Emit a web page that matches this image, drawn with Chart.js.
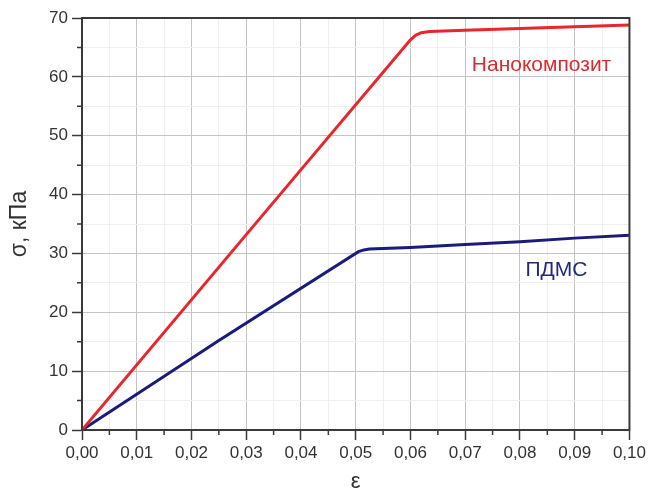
<!DOCTYPE html>
<html>
<head>
    <title>σ(ε)</title>
    <script src="https://cdn.jsdelivr.net/npm/chart.js"></script>
    <style>
        html, body {
            margin: 0;
            padding: 0;
            background: #ffffff;
        }
        .chart-box {
            width: 649px;
            height: 490px;
            position: relative;
        }
    </style>
</head>
<body>
    <div class="chart-box">
        <canvas id="stress-chart"></canvas>
    </div>

    <script>
        // strain values and stress (kPa)
        const epsNano = [0, 0.0300, 0.0600, 0.0610, 0.0620, 0.0635, 0.0700, 0.0800, 0.0900, 0.1000];
        const sigmaNano = [0, 33.2, 66.3, 67.1, 67.5, 67.7, 67.9, 68.2, 68.5, 68.8];
        const epsPdms = [0, 0.0250, 0.0505, 0.0515, 0.0525, 0.0600, 0.0700, 0.0800, 0.0900, 0.1000];
        const sigmaPdms = [0, 15.2, 30.3, 30.6, 30.75, 31.0, 31.5, 32.0, 32.6, 33.1];

        const xTicksMajor = ['0,00', '0,01', '0,02', '0,03', '0,04', '0,05', '0,06', '0,07', '0,08', '0,09', '0,10'];
        const yTicksMajor = ['0', '10', '20', '30', '40', '50', '60', '70'];

        const labels = [
            { text: 'Нанокомпозит', x: 0.0712, y: 62.0, color: '#d92a2f' },
            { text: 'ПДМС', x: 0.0810, y: 27.2, color: '#222a78' }
        ];

        function toPoints(xs, ys) {
            return xs.map((x, i) => ({ x: x, y: ys[i] }));
        }

        function isMajorX(v) {
            return Math.round(v * 1000) % 10 === 0;
        }
        function isMajorY(v) {
            return Math.round(v) % 10 === 0;
        }

        // frame on top/right, minor ticks and curve captions
        const extras = {
            id: 'extras',
            afterDraw(chart) {
                const ctx = chart.ctx;
                const a = chart.chartArea;
                const xs = chart.scales.x;
                const ys = chart.scales.y;
                ctx.save();

                ctx.strokeStyle = '#3a3a3a';
                ctx.lineWidth = 2;
                ctx.strokeRect(a.left, a.top, a.right - a.left, a.bottom - a.top);

                ctx.lineWidth = 1.5;
                ctx.beginPath();
                xs.ticks.forEach(t => {
                    if (!isMajorX(t.value)) {
                        const px = xs.getPixelForValue(t.value);
                        ctx.moveTo(px, a.bottom);
                        ctx.lineTo(px, a.bottom + 5);
                    }
                });
                ys.ticks.forEach(t => {
                    if (!isMajorY(t.value)) {
                        const py = ys.getPixelForValue(t.value);
                        ctx.moveTo(a.left, py);
                        ctx.lineTo(a.left - 5, py);
                    }
                });
                ctx.stroke();

                ctx.font = '21px "Liberation Sans", Arial, sans-serif';
                ctx.textAlign = 'left';
                ctx.textBaseline = 'middle';
                labels.forEach(l => {
                    ctx.fillStyle = l.color;
                    ctx.fillText(l.text, xs.getPixelForValue(l.x), ys.getPixelForValue(l.y));
                });
                ctx.restore();
            }
        };

        const tickFont = { family: '"Liberation Sans", Arial, sans-serif', size: 17 };

        const ctx = document.getElementById('stress-chart').getContext('2d');
        const stressChart = new Chart(ctx, {
            type: 'line',
            data: {
                datasets: [{
                    label: 'Нанокомпозит',
                    data: toPoints(epsNano, sigmaNano),
                    borderColor: '#e8262b',
                    borderWidth: 3,
                    pointRadius: 0,
                    tension: 0,
                    fill: false
                }, {
                    label: 'ПДМС',
                    data: toPoints(epsPdms, sigmaPdms),
                    borderColor: '#1b1b7c',
                    borderWidth: 3,
                    pointRadius: 0,
                    tension: 0,
                    fill: false
                }]
            },
            options: {
                responsive: true,
                maintainAspectRatio: false,
                animation: false,
                layout: {
                    padding: { left: 0, right: 18, top: 18, bottom: 0 }
                },
                plugins: {
                    legend: { display: false },
                    tooltip: { enabled: false }
                },
                scales: {
                    x: {
                        type: 'linear',
                        min: 0,
                        max: 0.1,
                        afterFit: s => { s.height = 60; },
                        border: { color: '#3a3a3a', width: 2 },
                        grid: {
                            color: c => isMajorX(c.tick.value) ? '#c4c4c4' : '#efefef',
                            tickColor: c => isMajorX(c.tick.value) ? '#3a3a3a' : 'rgba(0,0,0,0)',
                            tickLength: 10,
                            tickWidth: 1.5,
                            lineWidth: 1
                        },
                        ticks: {
                            stepSize: 0.005,
                            autoSkip: false,
                            maxRotation: 0,
                            padding: 3,
                            color: '#333333',
                            font: tickFont,
                            callback: v => isMajorX(v) ? xTicksMajor[Math.round(v * 100)] : ''
                        },
                        title: {
                            display: true,
                            text: 'ε',
                            color: '#333333',
                            font: { family: '"Liberation Sans", Arial, sans-serif', size: 22 },
                            padding: { top: 0, bottom: -5 }
                        }
                    },
                    y: {
                        min: 0,
                        max: 70,
                        afterFit: s => { s.width = 82; },
                        border: { color: '#3a3a3a', width: 2 },
                        grid: {
                            color: c => isMajorY(c.tick.value) ? '#c4c4c4' : '#efefef',
                            tickColor: c => isMajorY(c.tick.value) ? '#3a3a3a' : 'rgba(0,0,0,0)',
                            tickLength: 10,
                            tickWidth: 1.5,
                            lineWidth: 1
                        },
                        ticks: {
                            stepSize: 5,
                            autoSkip: false,
                            padding: 4,
                            color: '#333333',
                            font: tickFont,
                            callback: v => isMajorY(v) ? yTicksMajor[Math.round(v / 10)] : ''
                        },
                        title: {
                            display: true,
                            text: 'σ, кПа',
                            color: '#333333',
                            font: { family: '"Liberation Sans", Arial, sans-serif', size: 23 },
                            padding: { top: 6, bottom: 0 }
                        }
                    }
                }
            },
            plugins: [extras]
        });
    </script>
</body>
</html>
